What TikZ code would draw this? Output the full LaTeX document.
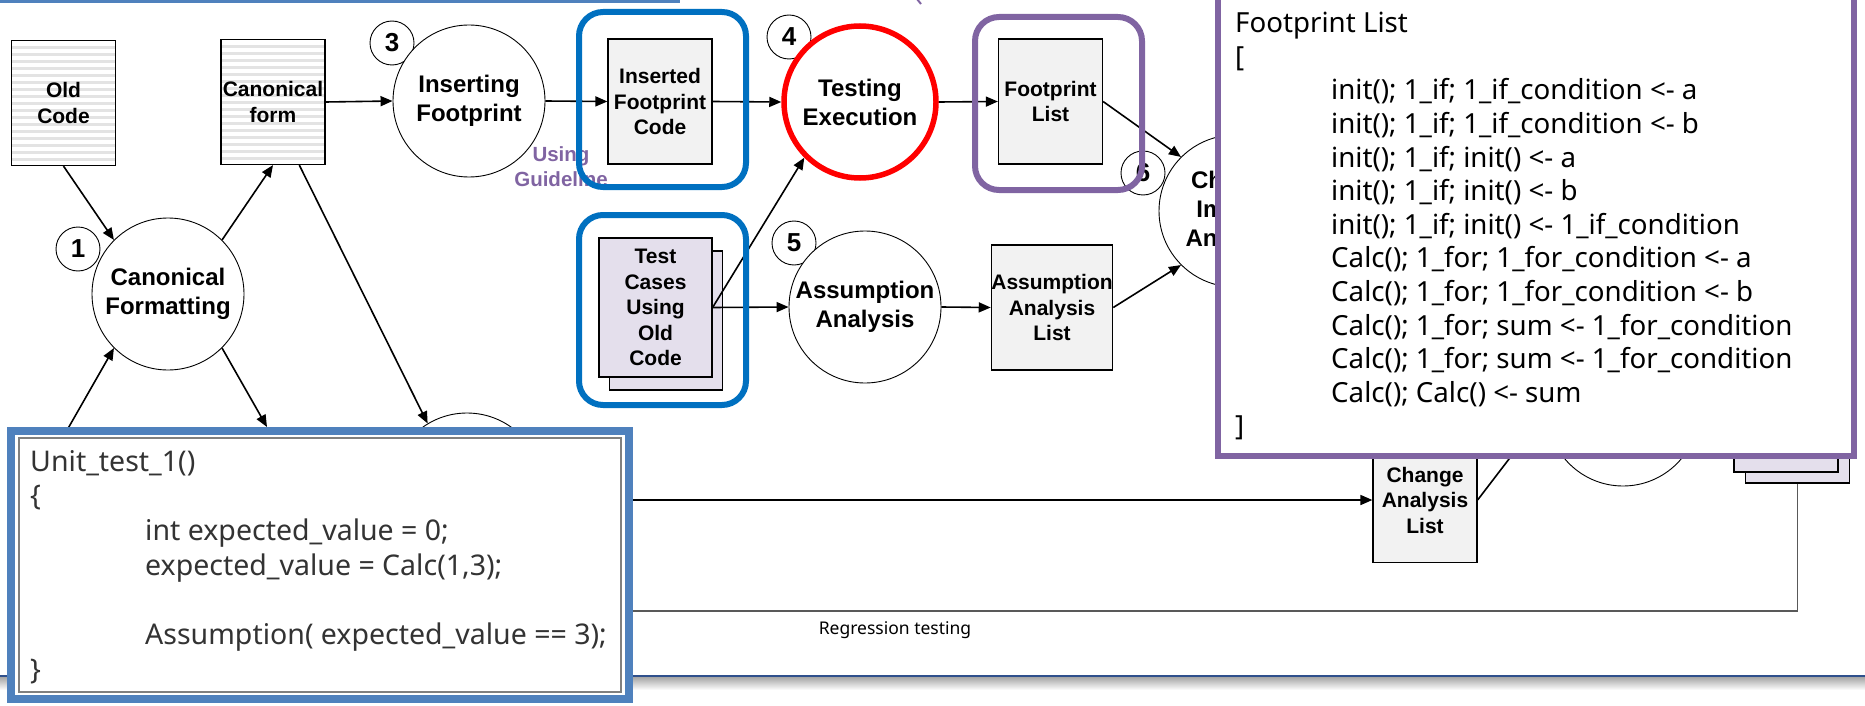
\documentclass[tikz,border=0pt]{standalone}
\usepackage{fontspec}
\setmainfont{Noto Sans}
\newfontfamily\lblfont{Liberation Sans}
\usepackage{tikz}
\usetikzlibrary{arrows.meta,calc}
\definecolor{hlblue}{RGB}{0,112,192}
\definecolor{hlpurple}{RGB}{128,100,162}
\definecolor{boxgray}{RGB}{242,242,242}
\definecolor{stackfill}{RGB}{228,223,236}
\definecolor{frameblue}{RGB}{79,129,189}
\definecolor{slideline}{RGB}{47,80,140}
\tikzset{>={Triangle[length=12pt,width=10pt]}}
\tikzstyle{proc}=[circle,draw,line width=0.9pt,fill=white,minimum size=152pt,inner sep=0pt,align=center,font=\lblfont\bfseries\fontsize{24}{29}\selectfont]
\tikzstyle{stepno}=[circle,draw,line width=0.9pt,fill=white,minimum size=44pt,inner sep=0pt,font=\lblfont\bfseries\fontsize{26}{26}\selectfont]
\tikzstyle{listbox}=[rectangle,draw,line width=1.2pt,fill=boxgray,minimum width=104pt,minimum height=125pt,inner sep=0pt,align=center,font=\lblfont\bfseries\fontsize{21}{25.5}\selectfont]
\tikzstyle{docbox}=[listbox,fill=white,path picture={
    \foreach \k in {1,...,18}
      \draw[gray!22,line width=2.2pt] ([yshift=-\k*7pt]path picture bounding box.north west) -- ([yshift=-\k*7pt]path picture bounding box.north east);
  }]
\tikzstyle{stackbox}=[listbox,fill=stackfill,minimum width=113pt,minimum height=139pt]
\tikzstyle{flow}=[->,line width=1.6pt]
\tikzstyle{hilite}=[rounded corners=24pt,line width=6pt]
\tikzstyle{regline}=[black!65,line width=1.2pt]

\begin{document}
\begin{tikzpicture}[x=1pt,y=-1pt]
  \useasboundingbox (0,0) rectangle (1865,706);

  % slide frame
  \draw[frameblue,line width=3.5pt] (0,1.5) -- (680,1.5);
  \draw[hlpurple,line width=2pt] (917,-1) -- (921,4);
  \shade[top color=black!35,bottom color=white] (0,677) rectangle (1865,690);
  \draw[slideline,line width=1.5pt] (0,676) -- (1865,676);

  % step numbers
  \node[stepno] (n1) at (78,249) {1};
  \node[stepno] (n3) at (392,43) {3};
  \node[stepno] (n4) at (789,37) {4};
  \node[stepno] (n5) at (794,243) {5};
  \node[stepno] (n6) at (1143,173) {6};

  % documents and lists
  \node[docbox] (old) at (63.5,103) {Old\\Code};
  \node[docbox] (canon) at (273,102) {Canonical\\form};
  \node[listbox] (ifc) at (660,101.5) {Inserted\\Footprint\\Code};
  \node[listbox] (fl) at (1050.5,101.5) {Footprint\\List};
  \node[listbox] (aal) at (1052,307.5) {Assumption\\Analysis\\List};
  \node[listbox] (cal) at (1425,500) {Change\\Analysis\\List};
  \node[stackbox] (tcback) at (666,320.5) {};
  \node[stackbox] (tc) at (655.5,307.5) {Test\\Cases\\Using\\Old\\Code};
  \node[stackbox,minimum width=104pt] (rsback) at (1797.5,413.5) {};
  \node[stackbox,minimum width=104pt] (rs) at (1786,402.5) {};

  % processes
  \node[proc] (cf) at (168,294) {Canonical\\Formatting};
  \node[proc] (ins) at (469,101) {Inserting\\Footprint};
  \node[proc,draw=red,line width=5.5pt] (te) at (860,102) {Testing\\Execution};
  \node[proc] (aa) at (865,307) {Assumption\\Analysis};
  \node[proc] (cia) at (1235,211) {Change\\Impact\\Analysis};
  \node[proc] (tcgen) at (467,489) {};
  \node[proc] (regr) at (1623,410) {};

  \coordinate (fmtin) at (66,432);
  \coordinate (fmtout) at (267,427);
  \coordinate (chgin) at (600,500);
  \coordinate (regout) at (560,611);

  \draw[flow] (old.south) -- (cf.135);
  \draw[flow] (cf.45) -- (canon.south);
  \draw[flow] (fmtin) -- (cf.225);
  \draw[flow] (cf.-45) -- (fmtout);
  \draw[flow] ($(canon.south)!.5!(canon.south east)$) -- (tcgen.121);
  \draw[flow] (canon.east) -- (ins.west);
  \draw[flow] (ins.east) -- (ifc.west);
  \draw[flow] (ifc.east) -- (te.west);
  \draw[flow] (te.east) -- (fl.west);
  \draw[flow] (fl.east) -- (cia.135);
  \draw[flow] (tc.east) -- (te.225);
  \draw[flow] (tc.east) -- (aa.west);
  \draw[flow] (aa.east) -- (aal.west);
  \draw[flow] (aal.east) -- (cia.225);
  \draw[flow] (chgin) -- (cal.west);
  \draw[flow] (cal.east) -- (regr.west);
  \draw[regline] (rsback.south) |- (regout);
  \node[font=\fontsize{17.5}{20}\selectfont] (regtxt) at (895,630) {Regression testing};

  \node[font=\lblfont\bfseries\fontsize{20.5}{25}\selectfont,text=hlpurple,align=center] (guide) at (561,167) {Using\\Guideline};

  % highlights
  \draw[hilite,hlblue] (579,12) rectangle (746,187);
  \draw[hilite,hlblue] (579,215) rectangle (746,405);
  \draw[hilite,hlpurple] (975,17) rectangle (1142,190);

  % unit test overlay
  \draw[frameblue,line width=8pt,fill=white] (11,431) rectangle (629,699);
  \draw[gray,line width=2.5pt] (19,438) rectangle (621,692);
  \node[anchor=north west,align=left,inner sep=0pt,text=black!80,font=\fontsize{28.5}{34.7}\selectfont] (utest) at (30,450)
    {Unit\_test\_1()\\
     \{\\
     \hspace*{115pt}int expected\_value = 0;\\
     \hspace*{115pt}expected\_value = Calc(1,3);\\[34.7pt]
     \hspace*{115pt}Assumption( expected\_value == 3);\\
     \}};

  % footprint list overlay
  \draw[hlpurple,line width=6.5pt,fill=white] (1218,-10) rectangle (1854,456);
  \node[anchor=north west,align=left,inner sep=0pt,font=\fontsize{27.7}{33.6}\selectfont] (fptext) at (1235,12)
    {Footprint List\\
     {[}\\
     \hspace*{96pt}init(); 1\_if; 1\_if\_condition <- a\\
     \hspace*{96pt}init(); 1\_if; 1\_if\_condition <- b\\
     \hspace*{96pt}init(); 1\_if; init() <- a\\
     \hspace*{96pt}init(); 1\_if; init() <- b\\
     \hspace*{96pt}init(); 1\_if; init() <- 1\_if\_condition\\
     \hspace*{96pt}Calc(); 1\_for; 1\_for\_condition <- a\\
     \hspace*{96pt}Calc(); 1\_for; 1\_for\_condition <- b\\
     \hspace*{96pt}Calc(); 1\_for; sum <- 1\_for\_condition\\
     \hspace*{96pt}Calc(); 1\_for; sum <- 1\_for\_condition\\
     \hspace*{96pt}Calc(); Calc() <- sum\\
     {]}};

\end{tikzpicture}
\end{document}
